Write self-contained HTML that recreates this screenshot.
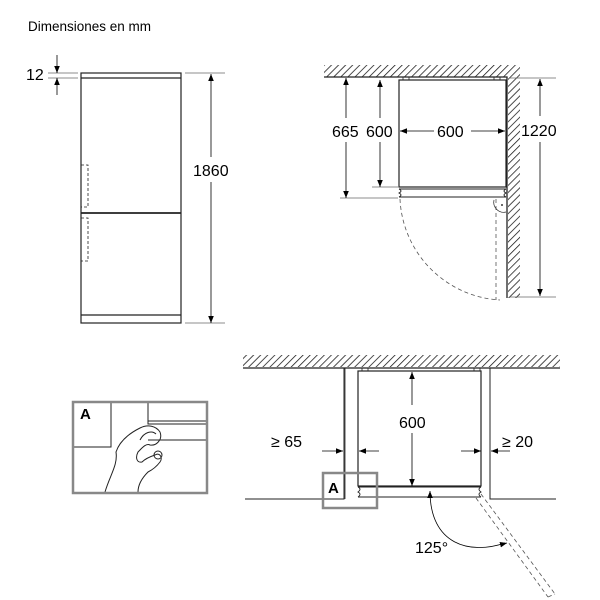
<!DOCTYPE html>
<html><head><meta charset="utf-8"><style>
html,body{margin:0;padding:0;background:#fff;}
svg{display:block;font-family:"Liberation Sans",Arial,sans-serif;}
</style></head><body>
<svg width="600" height="600" viewBox="0 0 600 600" xmlns="http://www.w3.org/2000/svg">
<defs>
<pattern id="h" width="5" height="5" patternUnits="userSpaceOnUse" patternTransform="rotate(45)">
<line x1="0" y1="0" x2="0" y2="5" stroke="#111" stroke-width="1.5"/>
</pattern>
<marker id="a" viewBox="0 0 10 10" refX="10" refY="5" markerWidth="7" markerHeight="7" orient="auto-start-reverse" markerUnits="userSpaceOnUse">
<path d="M0,1 L10,5 L0,9 z" fill="#000"/>
</marker>
</defs>
<text x="28" y="31" font-size="13.5">Dimensiones en mm</text>

<!-- front view -->
<g stroke="#222" fill="none" stroke-width="1.2">
<rect x="81" y="73" width="100" height="250"/>
<line x1="81" y1="78" x2="181" y2="78"/>
<line x1="81" y1="213" x2="181" y2="213" stroke-width="1.8"/>
<line x1="81" y1="315" x2="181" y2="315"/>
<path d="M81,165 H88 V207 H81 M81,218 H88 V261 H81" stroke-dasharray="3,2" stroke-width="0.8"/>
</g>
<g stroke="#666" stroke-width="0.8">
<line x1="48" y1="73" x2="78" y2="73"/><line x1="48" y1="78" x2="78" y2="78"/>
<line x1="185" y1="73" x2="225" y2="73"/><line x1="185" y1="323" x2="225" y2="323"/>
</g>
<g stroke="#000" stroke-width="0.8">
<line x1="57" y1="55" x2="57" y2="73" marker-end="url(#a)"/>
<line x1="57" y1="95" x2="57" y2="78" marker-end="url(#a)"/>
<line x1="211" y1="157" x2="211" y2="74" marker-end="url(#a)"/>
<line x1="211" y1="182" x2="211" y2="323" marker-end="url(#a)"/>
</g>
<text x="26" y="80" font-size="16">12</text>
<text x="193" y="176" font-size="16">1860</text>

<!-- top right plan -->
<rect x="324" y="65" width="184" height="12" fill="url(#h)"/>
<rect x="508" y="65" width="12" height="233" fill="url(#h)"/>
<rect x="324" y="62" width="200" height="3" fill="#fff"/>
<g stroke="#222" fill="none" stroke-width="1.3">
<path d="M324,77 H507 V298"/>
<rect x="399" y="80" width="107" height="107" stroke-width="1.2"/>
<path d="M399,189 H506 M399,197 H506" stroke-width="1"/>
<path d="M399,189 q4,2 0,4 q4,2 0,4 M506,189 q-4,2 0,4 q-4,2 0,4" stroke-width="0.9"/>
<rect x="403" y="77" width="6" height="3" stroke-width="0.8"/>
<rect x="494" y="77" width="6" height="3" stroke-width="0.8"/>
<path d="M400,199 A106,106 0 0 0 500,300" stroke-dasharray="4,3" stroke-width="0.8" stroke="#555"/>
<path d="M496,199 V300" stroke-dasharray="4,3" stroke-width="0.8" stroke="#555"/>
<path d="M494,200 a10,10 0 0 0 12,12" stroke-width="0.7"/>
</g>
<circle cx="502" cy="205" r="0.9" fill="#000"/>
<g stroke="#666" stroke-width="0.8">
<line x1="340" y1="198" x2="398" y2="198"/>
<line x1="372" y1="187" x2="398" y2="187"/>
<line x1="510" y1="78" x2="556" y2="78"/>
<line x1="510" y1="297" x2="556" y2="297"/>
</g>
<g stroke="#000" stroke-width="0.8">
<line x1="346" y1="118" x2="346" y2="78" marker-end="url(#a)"/>
<line x1="346" y1="142" x2="346" y2="198" marker-end="url(#a)"/>
<line x1="380" y1="118" x2="380" y2="80" marker-end="url(#a)"/>
<line x1="380" y1="142" x2="380" y2="187" marker-end="url(#a)"/>
<line x1="434" y1="131" x2="400" y2="131" marker-end="url(#a)"/>
<line x1="471" y1="131" x2="505" y2="131" marker-end="url(#a)"/>
<line x1="540" y1="116" x2="540" y2="79" marker-end="url(#a)"/>
<line x1="540" y1="142" x2="540" y2="296" marker-end="url(#a)"/>
</g>
<text x="332" y="137" font-size="16">665</text>
<text x="366" y="137" font-size="16">600</text>
<text x="437" y="137" font-size="16">600</text>
<text x="521" y="136" font-size="16">1220</text>

<!-- bottom plan -->
<rect x="243" y="355" width="317" height="12" fill="url(#h)"/>
<g stroke="#222" fill="none" stroke-width="1.3">
<line x1="243" y1="368" x2="560" y2="368"/>
<path d="M245,499 H344 V368 M556,499 H490 V368" stroke-width="1"/>
<line x1="345" y1="368" x2="345" y2="499" stroke-width="0.8"/>
<rect x="358" y="371" width="123" height="115" stroke-width="1.2"/>
<path d="M358,487 H481 M358,497 H481" stroke-width="1"/>
<path d="M358,487 q4,2 0,5 q4,2 0,5 M481,487 q-4,2 0,5 q-4,2 0,5" stroke-width="0.9"/>
<rect x="362" y="368" width="6" height="3" stroke-width="0.8"/>
<rect x="474" y="368" width="6" height="3" stroke-width="0.8"/>
<path d="M481,494 L555,594 M476,498 L548,597 M548,597 L555,594" stroke-dasharray="4,3" stroke-width="0.8" stroke="#555"/>
</g>
<g stroke="#000" stroke-width="0.8" fill="none">
<line x1="412" y1="405" x2="412" y2="372" marker-end="url(#a)"/>
<line x1="412" y1="433" x2="412" y2="486" marker-end="url(#a)"/>
<line x1="322" y1="451" x2="343" y2="451" marker-end="url(#a)"/>
<line x1="379" y1="451" x2="359" y2="451" marker-end="url(#a)"/>
<line x1="461" y1="451" x2="481" y2="451" marker-end="url(#a)"/>
<line x1="510" y1="451" x2="491" y2="451" marker-end="url(#a)"/>
<path d="M505,543 C470,555 430,545 430,491" marker-end="url(#a)"/>
<line x1="503" y1="544" x2="507" y2="543" marker-end="url(#a)"/>
</g>
<text x="399" y="428" font-size="16">600</text>
<text x="271" y="447" font-size="16">≥ 65</text>
<text x="502" y="447" font-size="16">≥ 20</text>
<text x="415" y="553" font-size="16">125°</text>
<rect x="323" y="473" width="54" height="35" fill="none" stroke="#888" stroke-width="2.5"/>
<text x="328" y="493" font-size="15" font-weight="bold">A</text>

<!-- inset A -->
<g fill="none" stroke="#222" stroke-width="1">
<path d="M111,402 V447 H73"/>
<path d="M148,402 V421 H206 M148,421 L148,424 H206"/>
<path d="M148,440 H206"/>
<path d="M105,492 C110,475 118,465 116,452 C120,440 130,433 140,428 C148,424 156,426 160,432 C163,440 156,446 150,445 C146,443 142,448 138,452 C135,458 137,463 142,462 C146,458 152,456 155,455 C160,452 163,458 160,462 C157,466 152,470 148,472 C142,478 138,485 138,492"/>
<path d="M140,440 C144,432 152,430 156,434"/>
<circle cx="158" cy="455" r="4"/>
</g>
<rect x="73" y="402" width="134" height="91" fill="none" stroke="#888" stroke-width="2.5"/>
<text x="80" y="419" font-size="15" font-weight="bold">A</text>
</svg>
</body></html>
